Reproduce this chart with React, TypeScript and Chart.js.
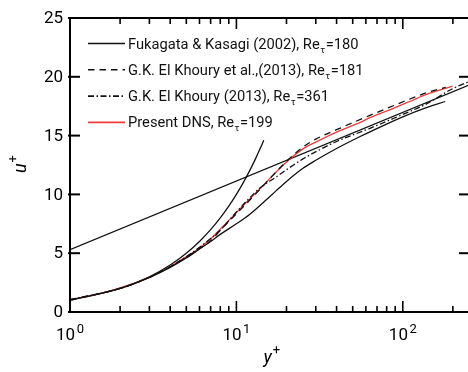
import React, { useEffect, useRef } from "react";
import { Chart, registerables } from "chart.js";

Chart.register(...registerables);

// ---------- data ----------
// Fukagata & Kasagi (2002), Re_tau = 180 (solid)
const fkYplus = [1, 2, 3, 4, 5, 6, 7, 8, 10, 12, 15, 17.3, 20, 25, 30, 40, 55, 63, 100, 140, 180];
const fkUplus = [1.0, 2.0, 2.95, 3.8, 4.6, 5.35, 6.0, 6.6, 7.5, 8.3, 9.5, 10.3, 11.1, 12.2, 12.9, 13.9, 14.9, 15.3, 16.6, 17.4, 17.9];

// G.K. El Khoury et al. (2013), Re_tau = 181 (dashed)
const ek181Yplus = [1, 2, 3, 4, 5, 6, 7, 8, 10, 12, 14, 16.5, 20, 25, 30, 40, 63, 90, 139, 181];
const ek181Uplus = [1.05, 2.0, 2.95, 3.85, 4.65, 5.4, 6.05, 6.95, 8.35, 9.5, 10.5, 11.6, 12.8, 14.0, 14.7, 15.5, 16.7, 17.6, 18.65, 19.1];

// G.K. El Khoury (2013), Re_tau = 361 (dash-dot)
const ek361Yplus = [1, 2, 3, 4, 5, 6, 7, 8, 10, 12, 14, 17.4, 20, 25, 31.7, 40, 63, 100, 139, 200, 300, 361];
const ek361Uplus = [1.05, 2.0, 2.95, 3.85, 4.7, 5.5, 6.25, 6.95, 8.5, 9.7, 10.6, 11.5, 12.1, 13.0, 13.8, 14.5, 15.6, 16.8, 17.7, 19.0, 20.0, 20.4];

// Present DNS, Re_tau = 199 (red)
const dnsYplus = [1, 1.5, 2, 3, 4, 5, 6, 7, 8, 10, 12, 14, 16.5, 20, 25, 30, 40, 55, 63, 87, 110, 139, 170, 199];
const dnsUplus = [1.05, 1.55, 2.05, 2.95, 3.85, 4.7, 5.45, 6.2, 7.05, 8.45, 9.6, 10.55, 11.6, 12.75, 13.85, 14.45, 15.3, 16.1, 16.5, 17.3, 17.9, 18.5, 18.9, 19.2];

// viscous sublayer reference line (solid)
const viscYplus = [1, 2, 3, 4, 5, 6, 7, 8, 9, 10, 11, 12, 13, 14, 14.6];
const viscUplus = [1, 2, 3, 4, 5, 6, 7, 8, 9, 10, 11, 12, 13, 14, 14.6];

// log-law reference line (solid)
const logYplus = [1, 250];
const logUplus = [5.3, 19.3];

// axes
const xMin = 1;
const xMax = 250;
const yMin = 0;
const yMax = 25;
const xMajorTicks = [1, 10, 100];
const xMajorExp = ["0", "1", "2"];
const xMinorTicks = [2, 3, 4, 5, 6, 7, 8, 9, 20, 30, 40, 50, 60, 70, 80, 90, 200];
const yTicks = [0, 5, 10, 15, 20, 25];

// legend
const legendPre = [
  "Fukagata & Kasagi (2002), Re",
  "G.K. El Khoury et al.,(2013), Re",
  "G.K. El Khoury (2013), Re",
  "Present DNS, Re",
];
const legendSub = "τ";
const legendPost = ["=180", "=181", "=361", "=199"];

const FONT = "Roboto, 'Noto Sans', 'DejaVu Sans', sans-serif";

const pts = (xs: number[], ys: number[]) => xs.map((x, i) => ({ x, y: ys[i] }));

const framePlugin = {
  id: "frameAndLegend",
  afterDatasetsDraw(chart: any) {
    const ctx: CanvasRenderingContext2D = chart.ctx;
    const { left, right, top, bottom } = chart.chartArea;
    const xs = chart.scales.x;
    const ys = chart.scales.y;
    ctx.save();
    ctx.strokeStyle = "#000";
    ctx.fillStyle = "#000";
    ctx.lineWidth = 2;
    ctx.setLineDash([]);
    // frame
    ctx.beginPath();
    ctx.moveTo(left, top);
    ctx.lineTo(right, top);
    ctx.lineTo(right, bottom);
    ctx.lineTo(left, bottom);
    ctx.closePath();
    ctx.stroke();

    const seg = (x1: number, y1: number, x2: number, y2: number) => {
      ctx.beginPath();
      ctx.moveTo(x1, y1);
      ctx.lineTo(x2, y2);
      ctx.stroke();
    };
    ctx.lineWidth = 1.6;
    xMajorTicks.forEach((v) => {
      const px = xs.getPixelForValue(v);
      seg(px, bottom, px, bottom - 11);
      seg(px, top, px, top + 11);
    });
    xMinorTicks.forEach((v) => {
      const px = xs.getPixelForValue(v);
      seg(px, bottom, px, bottom - 6);
      seg(px, top, px, top + 6);
    });
    ctx.lineWidth = 2;
    yTicks.forEach((v) => {
      const py = ys.getPixelForValue(v);
      seg(left - 2, py, left + 10, py);
      seg(right, py, right - 10, py);
    });

    // y tick labels
    ctx.font = `17px ${FONT}`;
    ctx.textAlign = "right";
    ctx.textBaseline = "middle";
    yTicks.forEach((v) => {
      const py = ys.getPixelForValue(v);
      ctx.fillText(String(v), left - 7, py + 1);
    });

    // x tick labels 10^n
    ctx.textBaseline = "alphabetic";
    ctx.textAlign = "left";
    xMajorTicks.forEach((v, i) => {
      const px = xs.getPixelForValue(v);
      ctx.font = `17px ${FONT}`;
      const w1 = ctx.measureText("10").width;
      ctx.font = `13px ${FONT}`;
      const w2 = ctx.measureText(xMajorExp[i]).width;
      const x0 = px - (w1 + 1.5 + w2) / 2;
      ctx.font = `17px ${FONT}`;
      ctx.fillText("10", x0, bottom + 28);
      ctx.font = `13px ${FONT}`;
      ctx.fillText(xMajorExp[i], x0 + w1 + 1.5, bottom + 21);
    });

    // x axis title y+
    const cx = (left + right) / 2;
    ctx.font = `italic 18px ${FONT}`;
    const wy = ctx.measureText("y").width;
    ctx.fillText("y", cx - 6, bottom + 51);
    ctx.font = `13px ${FONT}`;
    ctx.fillText("+", cx - 6 + wy + 1, bottom + 42);

    // y axis title u+
    const cy = (top + bottom) / 2;
    ctx.save();
    ctx.translate(26, cy);
    ctx.rotate(-Math.PI / 2);
    ctx.font = `italic 18px ${FONT}`;
    const wu = ctx.measureText("u").width;
    ctx.fillText("u", -8, 0);
    ctx.font = `13px ${FONT}`;
    ctx.fillText("+", -8 + wu + 1, -9);
    ctx.restore();

    // legend
    const lx0 = 88;
    const lx1 = 125;
    const tx = 128;
    const rowY0 = 43.5;
    const rowStep = 26.3;
    for (let i = 0; i < legendPre.length; i++) {
      const ds = chart.data.datasets[i];
      const ry = rowY0 + i * rowStep;
      ctx.save();
      ctx.strokeStyle = ds.borderColor;
      ctx.lineWidth = ds.borderWidth + 0.3;
      ctx.setLineDash(ds.borderDash || []);
      seg(lx0, ry, lx1, ry);
      ctx.restore();
      ctx.fillStyle = "#111";
      ctx.font = `14.7px ${FONT}`;
      const base = ry + 5;
      ctx.fillText(legendPre[i], tx, base);
      const w1 = ctx.measureText(legendPre[i]).width;
      ctx.font = `9.5px ${FONT}`;
      ctx.fillText(legendSub, tx + w1 + 0.5, base + 4);
      const w2 = ctx.measureText(legendSub).width;
      ctx.font = `14.7px ${FONT}`;
      ctx.fillText(legendPost[i], tx + w1 + w2 + 1, base);
    }
    ctx.restore();
  },
};

export default function App() {
  const canvasRef = useRef<HTMLCanvasElement | null>(null);

  useEffect(() => {
    const canvas = canvasRef.current;
    if (!canvas) return;
    const common = {
      pointRadius: 0,
      fill: false,
      cubicInterpolationMode: "monotone" as const,
    };
    const chart = new Chart(canvas, {
      type: "line",
      data: {
        datasets: [
          {
            ...common,
            label: legendPre[0] + legendSub + legendPost[0],
            data: pts(fkYplus, fkUplus),
            borderColor: "#111",
            borderWidth: 1.3,
          },
          {
            ...common,
            label: legendPre[1] + legendSub + legendPost[1],
            data: pts(ek181Yplus, ek181Uplus),
            borderColor: "#111",
            borderWidth: 1.3,
            borderDash: [6.5, 5],
          },
          {
            ...common,
            label: legendPre[2] + legendSub + legendPost[2],
            data: pts(ek361Yplus, ek361Uplus),
            borderColor: "#111",
            borderWidth: 1.3,
            borderDash: [6, 2.5, 1.5, 2.5],
          },
          {
            ...common,
            label: legendPre[3] + legendSub + legendPost[3],
            data: pts(dnsYplus, dnsUplus),
            borderColor: "#ee3b3b",
            borderWidth: 1.3,
          },
          {
            ...common,
            label: "u+ = y+",
            data: pts(viscYplus, viscUplus),
            borderColor: "#111",
            borderWidth: 1.3,
          },
          {
            ...common,
            label: "log law",
            data: pts(logYplus, logUplus),
            borderColor: "#111",
            borderWidth: 1.3,
          },
        ],
      },
      options: {
        animation: false,
        responsive: false,
        devicePixelRatio: 1,
        layout: { padding: { left: 70, top: 18, right: 11, bottom: 60 } },
        plugins: { legend: { display: false }, tooltip: { enabled: false } },
        scales: {
          x: { type: "logarithmic", min: xMin, max: xMax, display: false },
          y: { type: "linear", min: yMin, max: yMax, display: false },
        },
      },
      plugins: [framePlugin],
    });
    return () => chart.destroy();
  }, []);

  return (
    <div style={{ position: "fixed", left: 0, top: 0, width: 480, height: 372, background: "#fff" }}>
      <canvas ref={canvasRef} width={480} height={372} style={{ display: "block" }} />
    </div>
  );
}
